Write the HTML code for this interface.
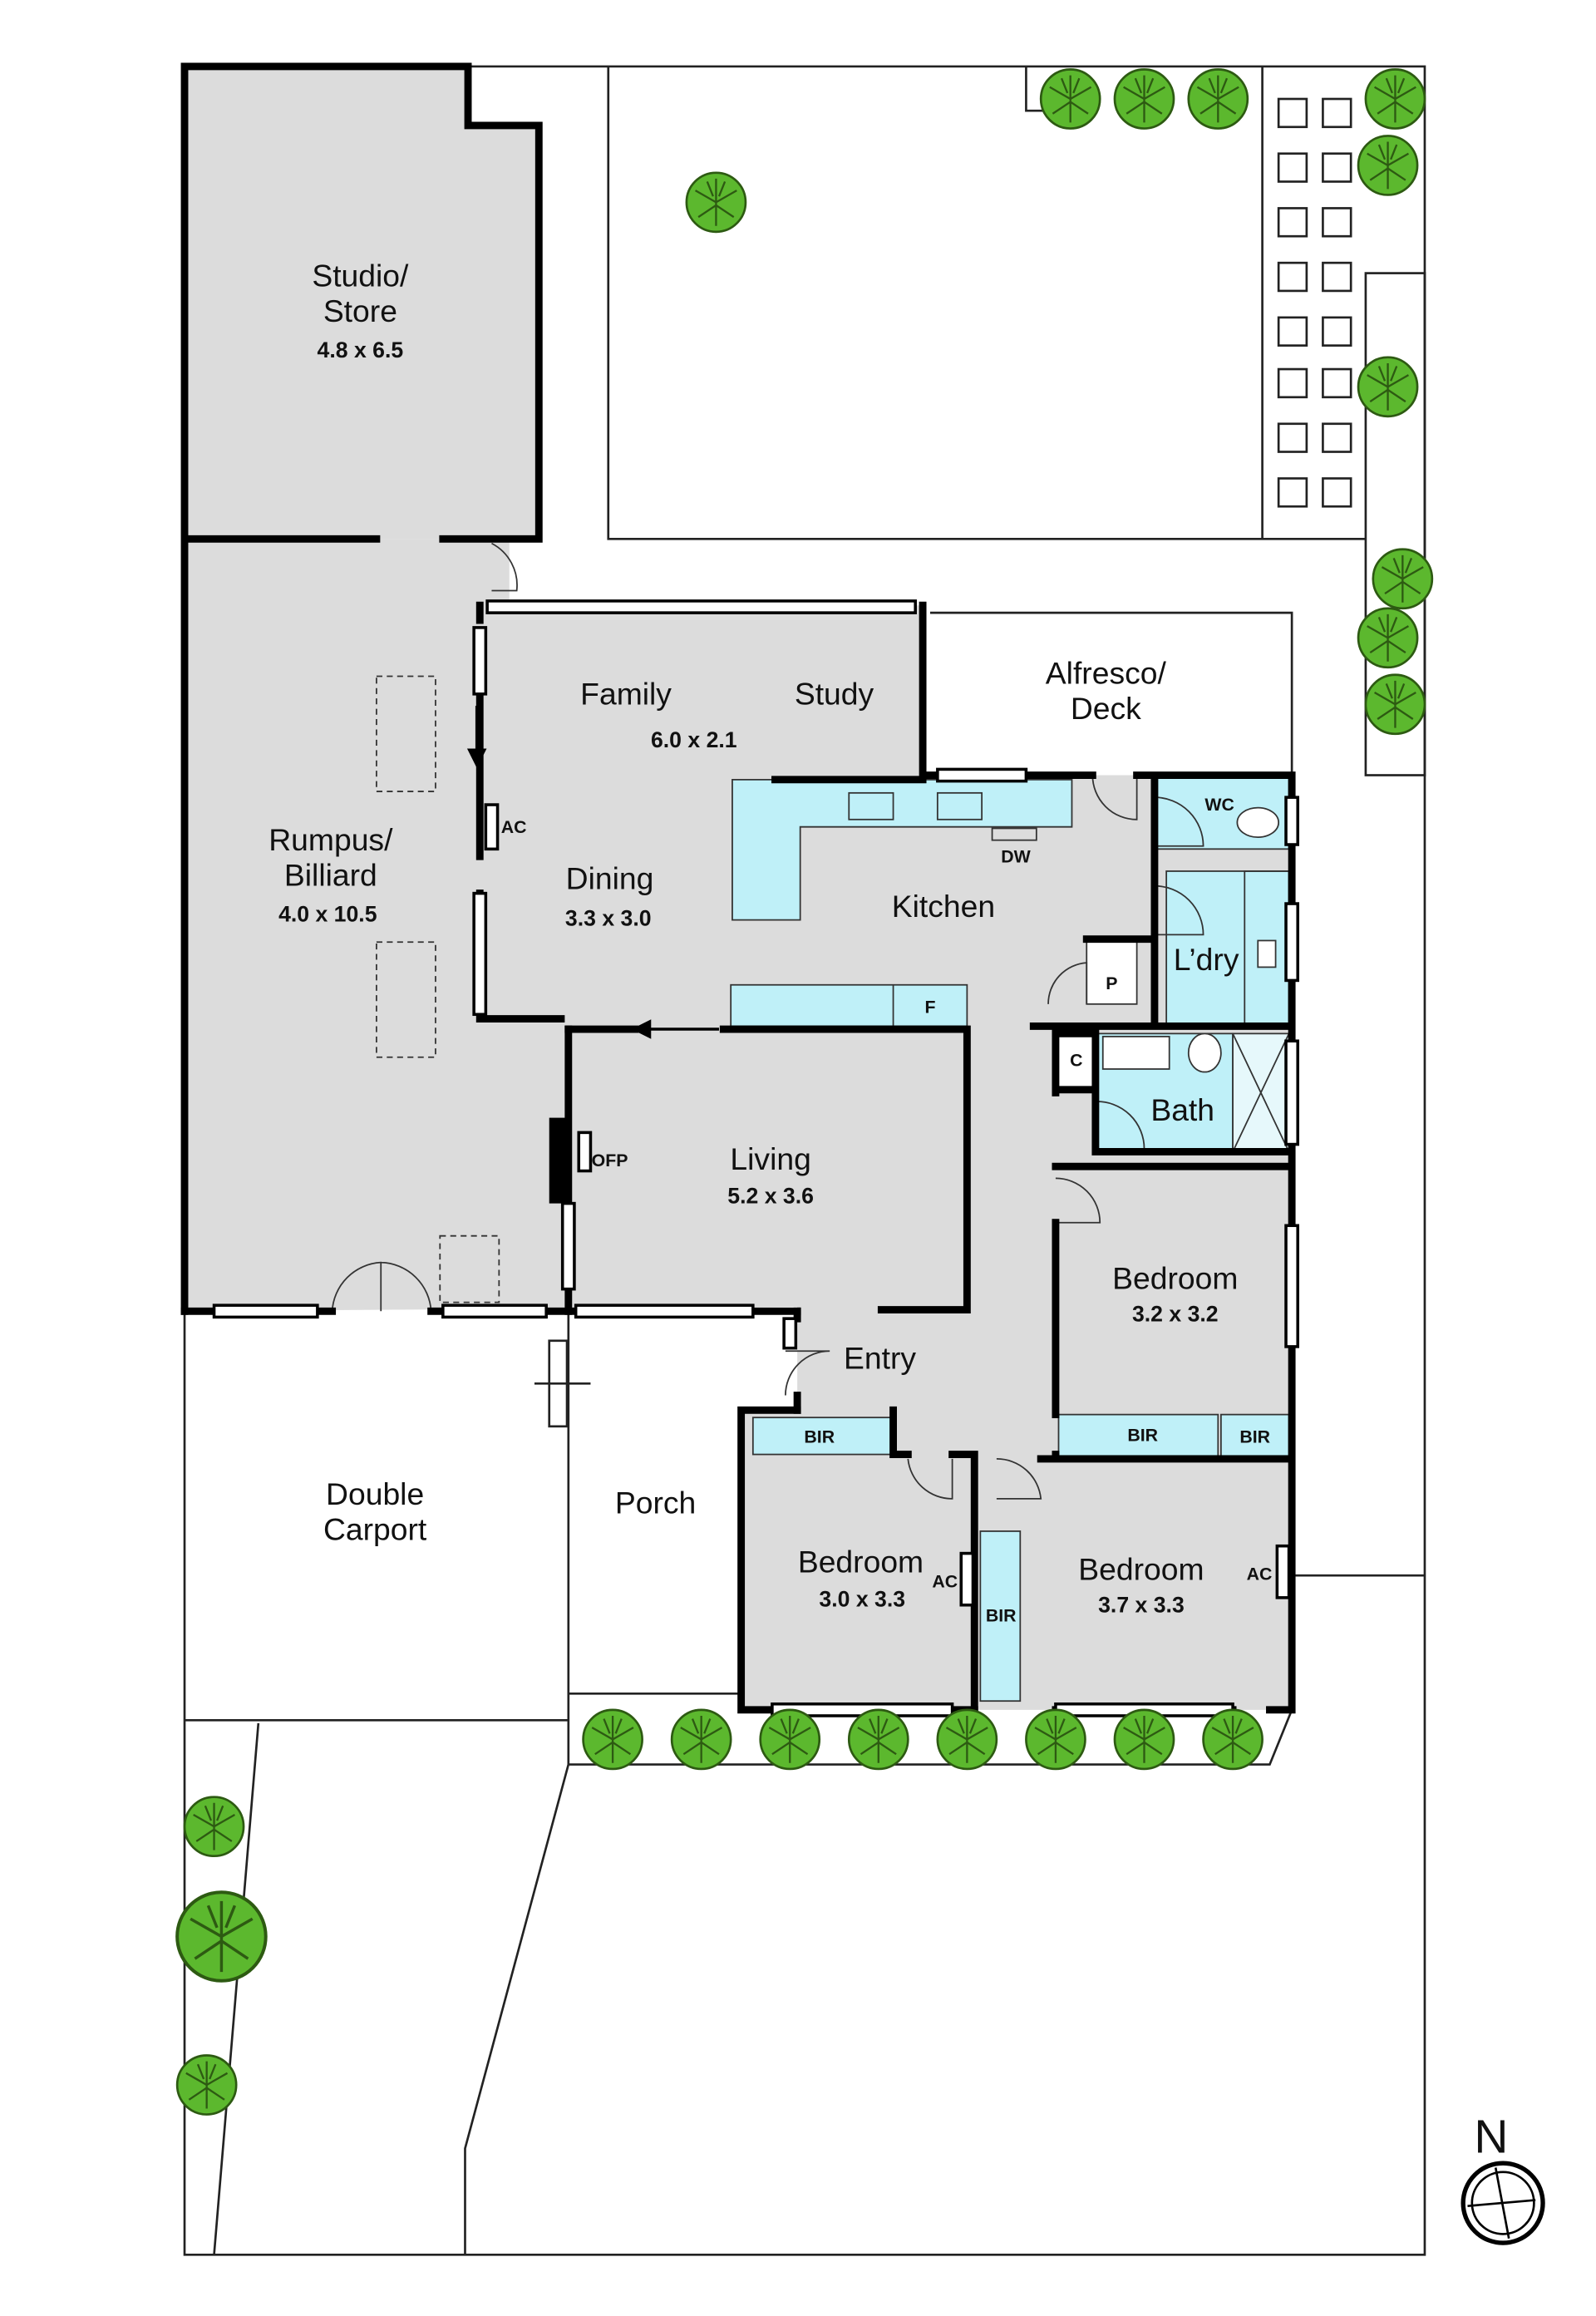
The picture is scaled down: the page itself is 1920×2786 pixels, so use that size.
<!DOCTYPE html>
<html><head><meta charset="utf-8"><style>
html,body{margin:0;padding:0;background:#fff;}
svg{display:block;}
text{font-family:"Liberation Sans",sans-serif;fill:#111;}
.n{font-size:21px;}
.d{font-size:15px;font-weight:bold;}
.s{font-size:12px;font-weight:bold;}
</style></head><body>
<svg width="1920" height="2786" viewBox="0 0 1081 1568.5" preserveAspectRatio="none" xmlns="http://www.w3.org/2000/svg">
<defs>
<g id="tree"><circle r="20" fill="#5cb82e" stroke="#2d5a12" stroke-width="1.5"/><path d="M0,-16 L0,16 M-14,-8 L0,0 L14,-8 M-12,10 L0,2 L12,10 M-6,-14 L-2,-4 M6,-14 L2,-4" stroke="#2d5a12" stroke-width="1.3" fill="none"/></g>
</defs>
<rect width="1081" height="1568.5" fill="#fff"/>
<!-- site boundary -->
<g fill="none" stroke="#222" stroke-width="1.5">
<path d="M317,45 L965,45 L965,1527 L125,1527 L125,888"/>
<path d="M412,45 L412,365 L925,365"/>
<path d="M855,45 L855,365"/>
<path d="M695,45 L695,75 L712,75"/>
<rect x="925" y="185" width="40" height="340"/>
<path d="M630,415 L875,415 L875,525"/>
<path d="M125,1165 L385,1165 M385,890 L385,1195 M385,1147 L502,1147 M385,1195 L860,1195 L875,1158"/>
<path d="M175,1167 L145,1527 M385,1195 L315,1455 L315,1527 M875,1067 L965,1067"/>
<rect x="372" y="908" width="12" height="58"/>
<path d="M362,937 L400,937"/>
</g>
<!-- paving squares -->
<g fill="none" stroke="#222" stroke-width="1.5">
<rect x="866" y="67" width="19" height="19"/><rect x="896" y="67" width="19" height="19"/>
<rect x="866" y="104" width="19" height="19"/><rect x="896" y="104" width="19" height="19"/>
<rect x="866" y="141" width="19" height="19"/><rect x="896" y="141" width="19" height="19"/>
<rect x="866" y="178" width="19" height="19"/><rect x="896" y="178" width="19" height="19"/>
<rect x="866" y="215" width="19" height="19"/><rect x="896" y="215" width="19" height="19"/>
<rect x="866" y="250" width="19" height="19"/><rect x="896" y="250" width="19" height="19"/>
<rect x="866" y="287" width="19" height="19"/><rect x="896" y="287" width="19" height="19"/>
<rect x="866" y="324" width="19" height="19"/><rect x="896" y="324" width="19" height="19"/>
</g>
<!-- grey fills -->
<g fill="#dcdcdc">
<polygon points="125,45 317,45 317,85 365,85 365,365 125,365"/>
<polygon points="125,365 345,365 345,410 625,410 625,525 875,525 875,1158 502,1158 502,955 540,955 540,885 125,888"/>
</g>
<!-- blue rooms -->
<g fill="#bff0f8" stroke="#333" stroke-width="1">
<rect x="782" y="527" width="91" height="48"/>
<rect x="790" y="590" width="83" height="105"/>
<rect x="742" y="700" width="93" height="80"/>
<rect x="835" y="700" width="38" height="80" fill="#e6f8fb"/>
<polygon points="496,528 726,528 726,560 542,560 542,623 496,623"/>
<rect x="495" y="667" width="160" height="28"/>
<rect x="510" y="960" width="95" height="25"/>
<rect x="717" y="958" width="108" height="28"/>
<rect x="827" y="958" width="46" height="28"/>
<rect x="664" y="1037" width="27" height="115"/>
</g>
<g fill="none" stroke="#333" stroke-width="1">
<line x1="605" y1="667" x2="605" y2="695"/>
<rect x="575" y="537" width="30" height="18"/><rect x="635" y="537" width="30" height="18"/>
<rect x="672" y="561" width="30" height="8"/>
<rect x="736" y="636" width="34" height="44" fill="#fff"/>
<rect x="716" y="700" width="26" height="38" fill="#fff"/>
<rect x="747" y="702" width="45" height="22" fill="#fff"/>
<ellipse cx="816" cy="713" rx="11" ry="13" fill="#fff"/>
<ellipse cx="852" cy="557" rx="14" ry="10" fill="#fff"/>
<rect x="852" y="637" width="12" height="18" fill="#fff"/>
<rect x="843" y="590" width="30" height="105"/>
<path d="M835,700 L873,780 M873,700 L835,780"/>
<rect x="255" y="458" width="40" height="78" stroke-dasharray="4,3"/>
<rect x="255" y="638" width="40" height="78" stroke-dasharray="4,3"/>
<rect x="298" y="837" width="40" height="45" stroke-dasharray="4,3"/>
<path d="M225,888 A35,35 0 0 1 258,855 L258,888 M292,888 A35,35 0 0 0 258,855 M333,368 A32,32 0 0 1 350,400 L333,400 M740,525 A30,30 0 0 0 770,555 L770,525 M782,540 A33,33 0 0 1 815,573 L782,573 M782,600 A33,33 0 0 1 815,633 L782,633 M710,680 A28,28 0 0 1 736,652 L736,680 M742,746 A32,32 0 0 1 775,778 L742,778 M715,798 A30,30 0 0 1 745,828 L715,828 M532,945 A30,30 0 0 1 562,915 L532,915 M615,988 A30,30 0 0 0 645,1015 L645,988 M675,988 A30,30 0 0 1 705,1015 L675,1015"/>
</g>
<!-- walls -->
<g fill="none" stroke="#000" stroke-width="5" stroke-linecap="square">
<path d="M125,888 L125,45 L317,45 L317,85 L365,85 L365,365 L300,365 M255,365 L125,365"/>
<path d="M125,888 L145,888 M215,888 L225,888 M292,888 L300,888 M370,888 L390,888 M510,888 L540,888"/>
<path d="M325,410 L325,420 M325,470 L325,520 M325,520 L325,580 M325,605 L325,690 L380,690 M385,697 L430,697 M490,697 L655,697 L655,887 L597,887"/>
<path d="M385,697 L385,815 M385,855 L385,888"/>
<path d="M625,410 L625,525 L635,525 M695,525 L740,525 M770,525 L875,525 L875,1158 L860,1158 M835,1158 L715,1158 M660,1158 L645,1158 M523,1158 L502,1158 L502,955 L540,955"/>
<path d="M782,527 L782,695 M700,695 L873,695 M736,636 L782,636 M715,700 L742,700 L742,780 L873,780 M715,738 L742,738 M715,700 L715,740 M715,790 L873,790 M715,828 L715,958 M715,985 L715,988 L873,988 M605,955 L605,985 L615,985 M645,985 L660,985 L660,1158 M705,988 L715,988 M525,528 L625,528"/>
<path d="M540,888 L540,893 M540,945 L540,955"/>
</g>
<rect x="372" y="757" width="12" height="58" fill="#000"/>
<!-- windows -->
<g fill="#fff" stroke="#000" stroke-width="2">
<rect x="330" y="407" width="290" height="8"/>
<rect x="635" y="521" width="60" height="8"/>
<rect x="145" y="884" width="70" height="8"/>
<rect x="300" y="884" width="70" height="8"/>
<rect x="390" y="884" width="120" height="8"/>
<rect x="523" y="1154" width="122" height="8"/>
<rect x="715" y="1154" width="120" height="8"/>
<rect x="871" y="540" width="8" height="32"/>
<rect x="871" y="612" width="8" height="52"/>
<rect x="871" y="705" width="8" height="70"/>
<rect x="871" y="830" width="8" height="82"/>
<rect x="321" y="425" width="8" height="45"/>
<rect x="321" y="605" width="8" height="82"/>
<rect x="381" y="815" width="8" height="58"/>
<rect x="531" y="893" width="8" height="20"/>
<rect x="865" y="1047" width="8" height="35"/>
<rect x="651" y="1052" width="8" height="35"/>
<rect x="392" y="767" width="8" height="26"/>
<rect x="329" y="545" width="8" height="30"/>
</g>
<g stroke="#000" stroke-width="2">
<line x1="323" y1="478" x2="323" y2="510"/><polygon points="318,508 328,508 323,518" fill="#000"/>
<line x1="440" y1="697" x2="487" y2="697"/><polygon points="440,692 440,702 430,697" fill="#000"/>
</g>
<!-- trees -->
<use href="#tree" x="485" y="137"/><use href="#tree" x="725" y="67"/><use href="#tree" x="775" y="67"/><use href="#tree" x="825" y="67"/><use href="#tree" x="945" y="67"/>
<use href="#tree" x="940" y="112" transform="translate(0,0)"/>
<use href="#tree" x="940" y="262"/><use href="#tree" x="950" y="392"/><use href="#tree" x="940" y="432"/><use href="#tree" x="945" y="477"/>
<use href="#tree" x="415" y="1178"/><use href="#tree" x="475" y="1178"/><use href="#tree" x="535" y="1178"/><use href="#tree" x="595" y="1178"/><use href="#tree" x="655" y="1178"/><use href="#tree" x="715" y="1178"/><use href="#tree" x="775" y="1178"/><use href="#tree" x="835" y="1178"/>
<use href="#tree" x="145" y="1237"/><use href="#tree" x="150" y="1311" transform="translate(-75,-655) scale(1.5)"/><use href="#tree" x="140" y="1412"/>
<!-- labels -->
<g text-anchor="middle">
<text class="n" x="244" y="194">Studio/</text><text class="n" x="244" y="218">Store</text><text class="d" x="244" y="242">4.8 x 6.5</text>
<text class="n" x="224" y="576">Rumpus/</text><text class="n" x="224" y="600">Billiard</text><text class="d" x="222" y="624">4.0 x 10.5</text>
<text class="n" x="424" y="477">Family</text><text class="d" x="470" y="506">6.0 x 2.1</text>
<text class="n" x="565" y="477">Study</text>
<text class="n" x="749" y="463">Alfresco/</text><text class="n" x="749" y="487">Deck</text>
<text class="n" x="413" y="602">Dining</text><text class="d" x="412" y="627">3.3 x 3.0</text>
<text class="n" x="639" y="621">Kitchen</text>
<text class="n" x="817" y="657">L’dry</text>
<text class="n" x="801" y="759">Bath</text>
<text class="n" x="522" y="792">Living</text><text class="d" x="522" y="815">5.2 x 3.6</text>
<text class="n" x="796" y="873">Bedroom</text><text class="d" x="796" y="895">3.2 x 3.2</text>
<text class="n" x="596" y="927">Entry</text>
<text class="n" x="254" y="1019">Double</text><text class="n" x="254" y="1043">Carport</text>
<text class="n" x="444" y="1025">Porch</text>
<text class="n" x="583" y="1065">Bedroom</text><text class="d" x="584" y="1088">3.0 x 3.3</text>
<text class="n" x="773" y="1070">Bedroom</text><text class="d" x="773" y="1092">3.7 x 3.3</text>
<text class="s" x="555" y="977">BIR</text><text class="s" x="774" y="976">BIR</text><text class="s" x="850" y="977">BIR</text><text class="s" x="678" y="1098">BIR</text>
<text class="s" x="630" y="686">F</text><text class="s" x="688" y="584">DW</text><text class="s" x="826" y="549">WC</text>
<text class="s" x="753" y="670">P</text><text class="s" x="729" y="722">C</text>
<text class="s" x="348" y="564">AC</text><text class="s" x="413" y="790">OFP</text><text class="s" x="640" y="1075">AC</text><text class="s" x="853" y="1070">AC</text>
<text x="1010" y="1458" style="font-size:32px">N</text>
</g>
<circle cx="1018" cy="1492" r="27" fill="none" stroke="#000" stroke-width="3"/>
<circle cx="1018" cy="1492" r="21" fill="none" stroke="#000" stroke-width="1.5"/>
<path d="M1013,1468 L1022,1516 M994,1494 L1040,1490" stroke="#000" stroke-width="1.5"/>
</svg>
</body></html>
